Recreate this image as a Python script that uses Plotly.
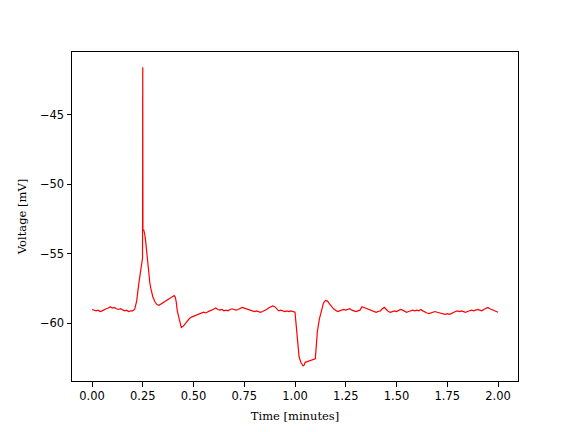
import plotly.graph_objects as go

# 时间（分钟）与膜电位（mV）
time_min = [
    0.00, 0.01, 0.02, 0.03, 0.04, 0.05, 0.06, 0.07, 0.08, 0.09,
    0.10, 0.11, 0.12, 0.13, 0.14, 0.15, 0.16, 0.17, 0.18, 0.19,
    0.20, 0.21, 0.22, 0.23, 0.24, 0.245, 0.249, 0.250, 0.251, 0.255,
    0.26, 0.265, 0.27, 0.275, 0.28, 0.285, 0.29, 0.30, 0.31, 0.32,
    0.33, 0.34, 0.35, 0.36, 0.37, 0.38, 0.39, 0.40, 0.405, 0.41,
    0.415, 0.42, 0.43, 0.44, 0.45, 0.46, 0.47, 0.48, 0.49, 0.50,
    0.51, 0.52, 0.53, 0.54, 0.55, 0.56, 0.57, 0.58, 0.59, 0.60,
    0.61, 0.62, 0.63, 0.64, 0.65, 0.66, 0.67, 0.68, 0.69, 0.70,
    0.71, 0.72, 0.73, 0.74, 0.75, 0.76, 0.77, 0.78, 0.79, 0.80,
    0.81, 0.82, 0.83, 0.84, 0.85, 0.86, 0.87, 0.88, 0.89, 0.90,
    0.91, 0.92, 0.93, 0.94, 0.95, 0.96, 0.97, 0.98, 0.99, 1.00,
    1.005, 1.01, 1.015, 1.02, 1.03, 1.04, 1.045, 1.05, 1.06, 1.07,
    1.08, 1.09, 1.10, 1.105, 1.11, 1.12, 1.13, 1.14, 1.15, 1.16,
    1.17, 1.18, 1.19, 1.20, 1.21, 1.22, 1.23, 1.24, 1.25, 1.26,
    1.27, 1.28, 1.29, 1.30, 1.31, 1.32, 1.33, 1.34, 1.35, 1.36,
    1.37, 1.38, 1.39, 1.40, 1.41, 1.42, 1.43, 1.44, 1.45, 1.46,
    1.47, 1.48, 1.49, 1.50, 1.51, 1.52, 1.53, 1.54, 1.55, 1.56,
    1.57, 1.58, 1.59, 1.60, 1.61, 1.62, 1.63, 1.64, 1.65, 1.66,
    1.67, 1.68, 1.69, 1.70, 1.71, 1.72, 1.73, 1.74, 1.75, 1.76,
    1.77, 1.78, 1.79, 1.80, 1.81, 1.82, 1.83, 1.84, 1.85, 1.86,
    1.87, 1.88, 1.89, 1.90, 1.91, 1.92, 1.93, 1.94, 1.95, 1.96,
    1.97, 1.98, 1.99, 2.00,
]
voltage_mv = [
    -59.00, -59.05, -59.10, -59.05, -59.15, -59.10, -59.00, -58.95, -58.90, -58.80,
    -58.90, -58.85, -58.95, -59.00, -58.95, -59.05, -59.10, -59.05, -59.15, -59.10,
    -59.10, -59.00, -58.40, -57.20, -56.00, -55.60, -55.30, -41.60, -53.30, -53.30,
    -53.60, -54.20, -55.00, -55.90, -56.60, -57.10, -57.50, -58.10, -58.45, -58.65,
    -58.70, -58.60, -58.50, -58.45, -58.35, -58.25, -58.15, -58.05, -58.00, -58.10,
    -58.45, -59.10, -59.80, -60.30, -60.20, -60.00, -59.85, -59.65, -59.55, -59.50,
    -59.40, -59.35, -59.30, -59.25, -59.20, -59.25, -59.15, -59.10, -59.05, -58.95,
    -58.90, -59.00, -59.05, -59.00, -59.10, -59.05, -59.10, -59.00, -58.95, -59.00,
    -59.05, -59.00, -58.95, -58.85, -58.90, -58.95, -59.00, -59.05, -59.10, -59.15,
    -59.10, -59.15, -59.20, -59.15, -59.10, -59.00, -58.90, -58.80, -58.75, -58.80,
    -58.95, -59.10, -59.05, -59.10, -59.15, -59.10, -59.15, -59.10, -59.15, -59.20,
    -60.00, -61.00, -61.90, -62.40, -62.85, -63.05, -63.00, -62.80, -62.75, -62.70,
    -62.70, -62.65, -62.55, -61.60, -60.60, -59.70, -59.00, -58.55, -58.35, -58.40,
    -58.60, -58.80, -58.95, -59.05, -59.15, -59.10, -59.05, -59.00, -59.05, -59.00,
    -58.95, -59.05, -59.10, -59.15, -59.10, -59.05, -58.80, -58.85, -58.95, -59.00,
    -59.05, -59.10, -59.15, -59.20, -59.15, -59.10, -58.95, -58.85, -59.00, -59.15,
    -59.20, -59.15, -59.10, -59.15, -59.10, -59.00, -59.05, -59.15, -59.20, -59.15,
    -59.10, -59.05, -59.10, -59.05, -59.10, -59.00, -59.10, -59.20, -59.25, -59.30,
    -59.25, -59.20, -59.15, -59.20, -59.25, -59.30, -59.30, -59.35, -59.30, -59.35,
    -59.30, -59.20, -59.15, -59.10, -59.15, -59.10, -59.15, -59.20, -59.15, -59.10,
    -59.05, -59.10, -59.05, -59.00, -59.05, -59.10, -59.00, -58.90, -58.85, -58.95,
    -59.00, -59.10, -59.15, -59.20,
]

x_ticks = [0.0, 0.25, 0.5, 0.75, 1.0, 1.25, 1.5, 1.75, 2.0]
y_ticks = [-60, -55, -50, -45]

fig = go.Figure()

fig.add_trace(go.Scatter(
    x=time_min,
    y=voltage_mv,
    mode='lines',
    line=dict(color='red', width=1.2),
    showlegend=False,
))

axis_style = dict(
    showgrid=False,
    zeroline=False,
    showline=True,
    linecolor='black',
    linewidth=1,
    mirror=True,
    ticks='outside',
    ticklen=4.5,
    tickwidth=1,
    tickcolor='black',
    tickfont=dict(family='DejaVu Sans', size=11.5, color='black'),
)

title_font = dict(family='DejaVu Serif', size=11.5, color='black')

fig.update_xaxes(
    **axis_style,
    range=[-0.0985, 2.0985],
    tickvals=x_ticks,
    tickformat='.2f',
    title=dict(text='Time [minutes]', font=title_font, standoff=9),
)
fig.update_yaxes(
    **axis_style,
    range=[-64.14, -40.5],
    tickvals=y_ticks,
    title=dict(text='Voltage [mV]', font=title_font, standoff=10),
)

# 页面 body 自带 8px 边距，画布相应缩小
fig.update_layout(
    width=568,
    height=424,
    plot_bgcolor='white',
    paper_bgcolor='white',
    margin=dict(l=64, r=58, t=44, b=49),
)

fig.write_html("out.html")
